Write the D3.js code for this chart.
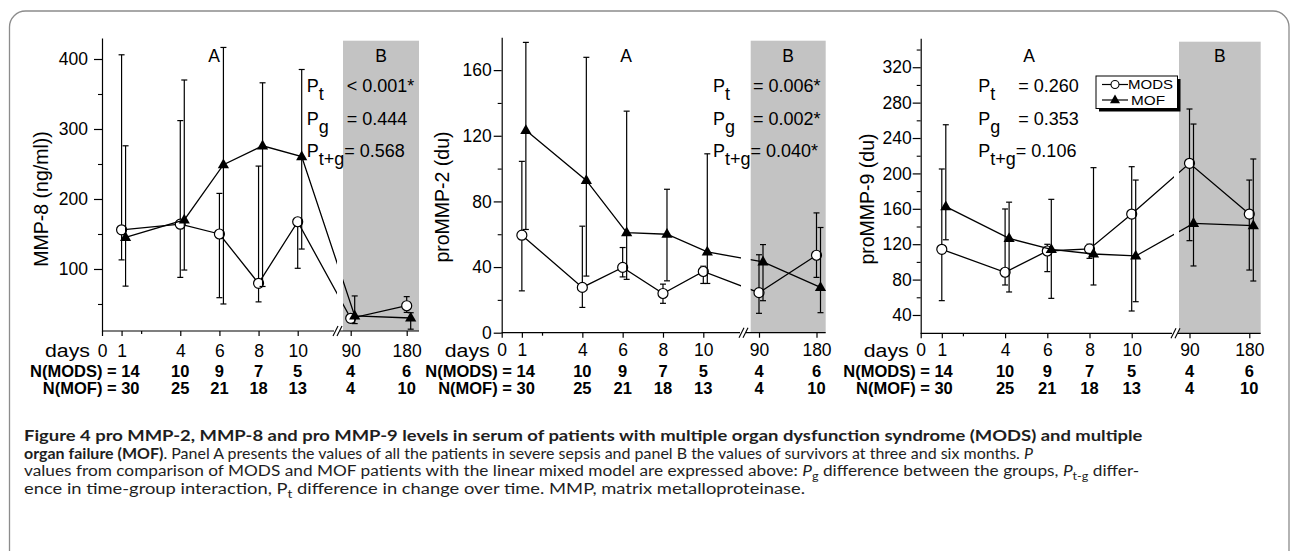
<!DOCTYPE html>
<html><head><meta charset="utf-8">
<script src="https://cdn.jsdelivr.net/npm/d3@7"></script>
<style>
body{margin:0;background:#fff;}
svg{display:block;}
text{font-family:"Liberation Sans",Arial,sans-serif;white-space:pre;}
text.cap{font-family:Lato,"Open Sans",sans-serif;}
</style>
</head><body>
<svg id="c" width="1292" height="551"></svg>
<script>
// ---------------- DATA ----------------
const days = [1, 4, 6, 8, 10, 90, 180];
const xTickDaysLeft = [0, 1, 4, 6, 8, 10];
const xMinorDaysLeft = [2];
const xTickDaysRight = [90, 180];
const nMODS = [14, 10, 9, 7, 5, 4, 6];
const nMOF  = [30, 25, 21, 18, 13, 4, 10];

// MMP-8 (ng/ml)
const mmp8ModsMean = [156, 164, 150, 79.5, 167.5, 29.5, 47.5];
const mmp8ModsLo   = [113, 88, 59, 53, 101, 24, 38];
const mmp8ModsHi   = [406, 312, 208, 247, 172, 35, 60.5];
const mmp8MofMean  = [145, 170, 249, 276, 260.5, 33, 30];
const mmp8MofLo    = [75.5, 98.5, 50, 75, 128.5, 22, 14];
const mmp8MofHi    = [276, 370, 416.5, 366, 385, 61.5, 37.5];

// proMMP-2 (du)
const mmp2ModsMean = [59.4, 27.6, 39.8, 23.9, 37.3, 24.4, 47.2];
const mmp2ModsLo   = [25.5, 15.4, 34, 17.9, 30, 11.8, 33.7];
const mmp2ModsHi   = [104.4, 64.9, 51.9, 29.6, 40.5, 47.5, 73];
const mmp2MofMean  = [123.3, 92.8, 61, 60, 49.2, 43.2, 27.6];
const mmp2MofLo    = [62.9, 34.5, 32.5, 31.6, 30, 19.5, 12.2];
const mmp2MofHi    = [176.9, 167.8, 135, 87.4, 109, 53.7, 64.1];

// proMMP-9 (du)
const mmp9ModsMean = [114.2, 88.3, 112.3, 114.6, 154.1, 211.4, 154.1];
const mmp9ModsLo   = [56.2, 73.9, 89, 104, 44.5, 124, 90.8];
const mmp9ModsHi   = [205, 159.8, 119.9, 120, 207.6, 272.8, 192.5];
const mmp9MofMean  = [162.4, 126.5, 114.2, 108.9, 106.7, 143.6, 140.9];
const mmp9MofLo    = [125, 66, 58.8, 73.9, 55, 95.4, 78.4];
const mmp9MofHi    = [255, 167.5, 170.7, 206.5, 192.5, 255.8, 216.3];

const yLabels = ["MMP-8 (ng/ml))", "proMMP-2 (du)", "proMMP-9 (du)"];
const yMajorTicks = [[100, 200, 300, 400], [0, 40, 80, 120, 160], [40, 80, 120, 160, 200, 240, 280, 320]];
const yMinorTicks = [[50, 150, 250, 350], [20, 60, 100, 140], [60, 100, 140, 180, 220, 260, 300, 340]];
const yDomains = [[11.4, 430], [0, 180], [19.3, 352.7]];
const pSubs = ["t", "g", "t+g"];
const pValues = [["< 0.001*", "= 0.444", "= 0.568"], ["= 0.006*", "= 0.002*", "= 0.040*"], ["= 0.260", "= 0.353", "= 0.106"]];
const legendLabels = ["MODS", "MOF"];

const captionLines = [
  [{t: "Figure 4 pro MMP-2, MMP-8 and pro MMP-9 levels in serum of patients with multiple organ dysfunction syndrome (MODS) and multiple", b: 1}],
  [{t: "organ failure (MOF)", b: 1}, {t: ". Panel A presents the values of all the patients in severe sepsis and panel B the values of survivors at three and six months. "}, {t: "P", i: 1}],
  [{t: "values from comparison of MODS and MOF patients with the linear mixed model are expressed above: "}, {t: "P", i: 1}, {t: "g", s: 1}, {t: " difference between the groups, "}, {t: "P", i: 1}, {t: "t-g", s: 1}, {t: " differ-"}],
  [{t: "ence in time-group interaction, P"}, {t: "t", s: 1}, {t: " difference in change over time. MMP, matrix metalloproteinase."}]
];

// ---------------- LAYOUT ----------------
const layout = [
  {axisX: 102, day10X: 297.7, leftEnd: 334, gap0: 337, grayX0: 343, grayX1: 419, d90X: 350.7, d180X: 406.7,
   yTop: 38, yBot: 331, grayTop: 40.7, labelX: 41, labelY: 199, tickGap: 14, pX: 306.7, aX: 214, nEnd: 18},
  {axisX: 501.7, day10X: 703.3, leftEnd: 740, gap0: 741, grayX0: 750.7, grayX1: 825.7, d90X: 759, d180X: 816.5,
   yTop: 37.3, yBot: 332.7, grayTop: 40.7, labelX: 442, labelY: 197, tickGap: 10, pX: 713, aX: 626, nEnd: 13},
  {axisX: 920.7, day10X: 1131.7, leftEnd: 1172, gap0: 1174, grayX0: 1179, grayX1: 1260.7, d90X: 1189.5, d180X: 1249.3,
   yTop: 38.3, yBot: 333.3, grayTop: 41.7, labelX: 867, labelY: 199, tickGap: 9, pX: 978.3, aX: 1029, nEnd: 11}
];
const panelData = [
  {mods: [mmp8ModsMean, mmp8ModsLo, mmp8ModsHi], mof: [mmp8MofMean, mmp8MofLo, mmp8MofHi]},
  {mods: [mmp2ModsMean, mmp2ModsLo, mmp2ModsHi], mof: [mmp2MofMean, mmp2MofLo, mmp2MofHi]},
  {mods: [mmp9ModsMean, mmp9ModsLo, mmp9ModsHi], mof: [mmp9MofMean, mmp9MofLo, mmp9MofHi]}
];
const MOF_SHIFT = 4;
const TICK_FS = 17.5;
const P_ROWS_Y = [92, 124.5, 157];

const svg = d3.select("#c");

// outer frame
svg.append("rect").attr("x", 9.5).attr("y", 11).attr("width", 1279.5).attr("height", 560)
  .attr("rx", 16).attr("fill", "none").attr("stroke", "#8c8c8c").attr("stroke-width", 1.3);

const triPath = "M0,-6.2L5.6,3.6L-5.6,3.6Z";

layout.forEach((L, pi) => {
  const D = panelData[pi];
  const g = svg.append("g");
  const xl = d3.scaleLinear().domain([0, 10]).range([L.axisX, L.day10X]);
  const xr = d3.scaleLinear().domain([90, 180]).range([L.d90X, L.d180X]);
  const X = d => d <= 10 ? xl(d) : xr(d);
  const y = d3.scaleLinear().domain(yDomains[pi]).range([L.yBot, L.yTop]);

  g.append("rect").attr("x", L.grayX0).attr("y", L.grayTop)
    .attr("width", L.grayX1 - L.grayX0).attr("height", L.yBot - L.grayTop).attr("fill", "#c3c3c3");

  const ya = g.append("g").attr("transform", `translate(${L.axisX},0)`)
    .call(d3.axisLeft(y).tickValues(yMajorTicks[pi]).tickSize(8).tickSizeOuter(0).tickPadding(L.tickGap - 8));
  ya.selectAll("text").attr("font-size", TICK_FS).attr("fill", "#000");
  ya.selectAll("line,path").attr("stroke", "#000").attr("stroke-width", 1.2);
  const ym = g.append("g").attr("transform", `translate(${L.axisX},0)`)
    .call(d3.axisLeft(y).tickValues(yMinorTicks[pi]).tickSize(4).tickFormat(""));
  ym.select(".domain").remove();
  ym.selectAll("line").attr("stroke", "#000").attr("stroke-width", 1.1);

  const xa = g.append("g").attr("transform", `translate(0,${L.yBot})`)
    .call(d3.axisBottom(xl).tickValues(xTickDaysLeft).tickSize(5).tickSizeOuter(0));
  xa.select(".domain").remove();
  const xam = g.append("g").attr("transform", `translate(0,${L.yBot})`)
    .call(d3.axisBottom(xl).tickValues(xMinorDaysLeft).tickSize(3).tickFormat(""));
  xam.select(".domain").remove();
  const xb = g.append("g").attr("transform", `translate(0,${L.yBot})`)
    .call(d3.axisBottom(xr).tickValues(xTickDaysRight).tickSize(5).tickSizeOuter(0));
  xb.select(".domain").remove();
  [xa, xam, xb].forEach(a => {
    a.selectAll("line").attr("stroke", "#000").attr("stroke-width", 1.2);
    a.selectAll("text").attr("font-size", TICK_FS)
      .attr("fill", "#000").attr("dy", 0).attr("y", 356.5 - L.yBot);
  });
  g.append("line").attr("x1", L.axisX).attr("x2", L.leftEnd).attr("y1", L.yBot).attr("y2", L.yBot)
    .attr("stroke", "#000").attr("stroke-width", 1.2);
  g.append("line").attr("x1", L.leftEnd + 6).attr("x2", L.grayX1).attr("y1", L.yBot).attr("y2", L.yBot)
    .attr("stroke", "#000").attr("stroke-width", 1.2);
  [1.5, 5.5].forEach(o => {
    g.append("line").attr("x1", L.leftEnd + o - 2.5).attr("y1", L.yBot + 5)
      .attr("x2", L.leftEnd + o + 2.5).attr("y2", L.yBot - 5).attr("stroke", "#000").attr("stroke-width", 1.1);
  });

  g.append("text").attr("x", L.axisX - 12).attr("y", 356.5).attr("text-anchor", "end")
    .attr("font-size", TICK_FS).attr("textLength", 45).attr("lengthAdjust", "spacingAndGlyphs").text("days");

  const nRows = [["N(MODS) = ", nMODS, 376.7], ["N(MOF) = ", nMOF, 394.3]];
  nRows.forEach(([lab, arr, yy]) => {
    g.append("text").attr("x", X(days[0]) + L.nEnd).attr("y", yy).attr("text-anchor", "end")
      .attr("font-size", 16.5).attr("font-weight", "bold").text(lab + arr[0]);
    g.selectAll(null).data(arr.slice(1)).enter().append("text")
      .attr("x", (d, i) => X(days[i + 1])).attr("y", yy).attr("text-anchor", "middle")
      .attr("font-size", 16.5).attr("font-weight", "bold").text(d => d);
  });

  g.append("text").attr("transform", `translate(${L.labelX},${L.labelY}) rotate(-90)`)
    .attr("text-anchor", "middle").attr("dy", "0.35em").attr("font-size", 19.5).text(yLabels[pi]);

  g.append("text").attr("x", L.aX).attr("y", 61.7).attr("text-anchor", "middle").attr("font-size", 17.5).text("A");
  g.append("text").attr("x", (L.grayX0 + L.grayX1) / 2).attr("y", 61.7).attr("text-anchor", "middle").attr("font-size", 17.5).text("B");

  pSubs.forEach((s, i) => {
    const t = g.append("text").attr("x", L.pX).attr("y", P_ROWS_Y[i]).attr("font-size", 18);
    t.append("tspan").text("P");
    t.append("tspan").attr("dy", 8).text(s);
    const v = t.append("tspan").attr("dy", -8).text(pValues[pi][i]);
    if (i < 2) v.attr("x", L.pX + 40);
  });

  const cid = "clip" + pi;
  const cp = svg.append("clipPath").attr("id", cid);
  cp.append("rect").attr("x", 0).attr("y", 0).attr("width", L.gap0).attr("height", 551);
  cp.append("rect").attr("x", L.grayX0).attr("y", 0).attr("width", 1292 - L.grayX0).attr("height", 551);

  const series = [{v: D.mods, shift: 0, kind: "circle"}, {v: D.mof, shift: MOF_SHIFT, kind: "tri"}];
  series.forEach(S => {
    const [mean, lo, hi] = S.v;
    const pts = days.map((d, i) => ({x: X(d) + S.shift, m: mean[i], lo: lo[i], hi: hi[i]}));
    const sg = g.append("g");
    pts.forEach(p => {
      sg.append("line").attr("x1", p.x).attr("x2", p.x).attr("y1", y(p.lo)).attr("y2", y(p.hi))
        .attr("stroke", "#000").attr("stroke-width", 1.2);
      [p.lo, p.hi].forEach(v => sg.append("line").attr("x1", p.x - 3).attr("x2", p.x + 3)
        .attr("y1", y(v)).attr("y2", y(v)).attr("stroke", "#000").attr("stroke-width", 1.2));
    });
    sg.append("path").attr("d", d3.line().x(p => p.x).y(p => y(p.m))(pts))
      .attr("fill", "none").attr("stroke", "#000").attr("stroke-width", 1.3).attr("clip-path", `url(#${cid})`);
    if (S.kind === "circle") {
      sg.selectAll(null).data(pts).enter().append("circle").attr("cx", p => p.x).attr("cy", p => y(p.m))
        .attr("r", 5).attr("fill", "#fff").attr("stroke", "#000").attr("stroke-width", 1.2);
    } else {
      sg.selectAll(null).data(pts).enter().append("path").attr("d", triPath)
        .attr("transform", p => `translate(${p.x},${y(p.m)})`).attr("fill", "#000");
    }
  });

  if (pi === 2) {
    const lg = g.append("g");
    lg.append("rect").attr("x", 1099).attr("y", 79).attr("width", 81.5).attr("height", 32.5).attr("fill", "#000");
    lg.append("rect").attr("x", 1096).attr("y", 76).attr("width", 81.5).attr("height", 32.5)
      .attr("fill", "#fff").attr("stroke", "#000").attr("stroke-width", 1);
    legendLabels.forEach((lab, i) => {
      const ly = 84.5 + i * 15.5;
      lg.append("line").attr("x1", 1102).attr("x2", 1128).attr("y1", ly).attr("y2", ly)
        .attr("stroke", "#000").attr("stroke-width", 1.2);
      if (i === 0) lg.append("circle").attr("cx", 1115).attr("cy", ly).attr("r", 4)
        .attr("fill", "#fff").attr("stroke", "#000").attr("stroke-width", 1.1);
      else lg.append("path").attr("d", "M0,-5.4L5,3.2L-5,3.2Z").attr("transform", `translate(1115,${ly})`).attr("fill", "#000");
      lg.append("text").attr("x", i === 0 ? 1128 : 1131).attr("y", ly + 4.7).attr("font-size", 13.5)
        .attr("textLength", i === 0 ? 45 : 34).attr("lengthAdjust", "spacingAndGlyphs").text(lab);
    });
  }
});

// ---------------- CAPTION ----------------
const capY = [440.7, 458.5, 476.3, 494];
const capEnd = [1143.3, 1033, 1140, 805.7];
captionLines.forEach((parts, li) => {
  const cg = svg.append("g");
  const t = cg.append("text").attr("class", "cap").attr("x", 0).attr("y", 0).attr("font-size", 15)
    .attr("fill", "#1e1e1e");
  parts.forEach((p, k) => {
    const ts = t.append("tspan").text(p.t);
    if (p.b) ts.attr("font-weight", "bold");
    if (p.i) ts.attr("font-style", "italic");
    if (p.s) ts.attr("font-size", 11).attr("dy", 4);
    const prev = parts[k - 1];
    if (prev && prev.s && !p.s) ts.attr("dy", -4);
  });
  const w = t.node().getComputedTextLength();
  const target = capEnd[li] - 24;
  cg.attr("transform", `translate(24,${capY[li]}) scale(${target / w},1)`);
});
</script>
</body></html>
